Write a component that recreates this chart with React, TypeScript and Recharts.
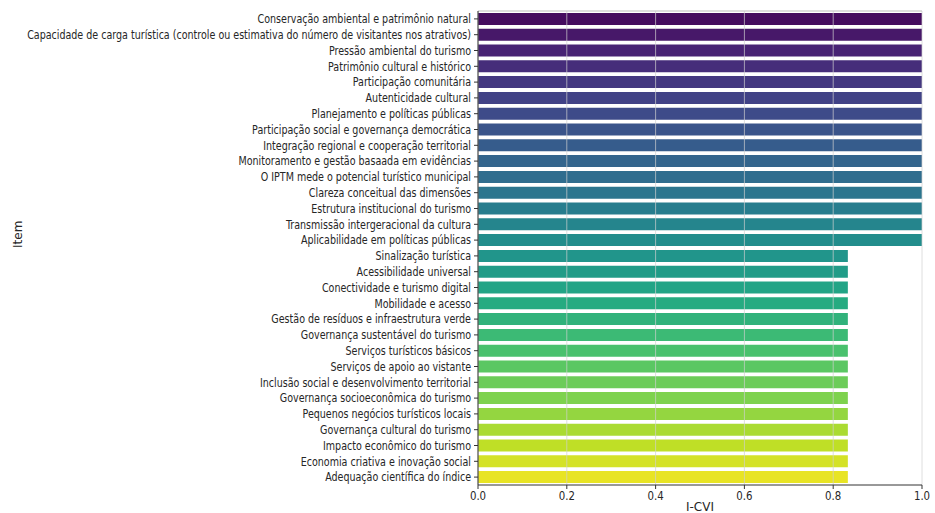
import React from 'react';
import { BarChart, Bar, XAxis, YAxis, Cell, ReferenceLine } from 'recharts';

const items = [
  'Conservação ambiental e patrimônio natural',
  'Capacidade de carga turística (controle ou estimativa do número de visitantes nos atrativos)',
  'Pressão ambiental do turismo',
  'Patrimônio cultural e histórico',
  'Participação comunitária',
  'Autenticidade cultural',
  'Planejamento e políticas públicas',
  'Participação social e governança democrática',
  'Integração regional e cooperação territorial',
  'Monitoramento e gestão basaada em evidências',
  'O IPTM mede o potencial turístico municipal',
  'Clareza conceitual das dimensões',
  'Estrutura institucional do turismo',
  'Transmissão intergeracional da cultura',
  'Aplicabilidade em políticas públicas',
  'Sinalização turística',
  'Acessibilidade universal',
  'Conectividade e turismo digital',
  'Mobilidade e acesso',
  'Gestão de resíduos e infraestrutura verde',
  'Governança sustentável do turismo',
  'Serviços turísticos básicos',
  'Serviços de apoio ao vistante',
  'Inclusão social e desenvolvimento territorial',
  'Governança socioeconômica do turismo',
  'Pequenos negócios turísticos locais',
  'Governança cultural do turismo',
  'Impacto econômico do turismo',
  'Economia criativa e inovação social',
  'Adequação científica do índice',
];

const icvi = [
  1.0, 1.0, 1.0, 1.0, 1.0, 1.0, 1.0, 1.0, 1.0, 1.0, 1.0, 1.0, 1.0, 1.0, 1.0,
  0.833, 0.833, 0.833, 0.833, 0.833, 0.833, 0.833, 0.833, 0.833, 0.833, 0.833, 0.833, 0.833, 0.833, 0.833,
];

const xTicks = [0, 0.2, 0.4, 0.6, 0.8, 1.0];

// viridis anchors (0, 0.1, ... 1)
const VIRIDIS = [
  '#440154', '#482475', '#414487', '#355f8d', '#2a788e', '#21918c',
  '#22a884', '#44bf70', '#7ad151', '#bddf26', '#fde725',
];

const hex = (c: string) => [1, 3, 5].map((i) => parseInt(c.slice(i, i + 2), 16));

const viridis = (t: number) => {
  const p = t * 10;
  const i = Math.min(9, Math.floor(p));
  const f = p - i;
  const a = hex(VIRIDIS[i]);
  const b = hex(VIRIDIS[i + 1]);
  const rgb = a.map((v, k) => Math.round(v + (b[k] - v) * f));
  return `rgb(${rgb.join(',')})`;
};

const data = items.map((item, i) => ({ item, icvi: icvi[i] }));

const FONT = '"DejaVu Sans", sans-serif';

const YTick = (props: any) => {
  const { x, y, payload } = props;
  return (
    <g transform={`translate(${x},${y})`}>
      <text
        x={0}
        y={0}
        dy="0.36em"
        textAnchor="end"
        fontSize={12}
        fill="#262626"
        fontFamily={FONT}
        transform="scale(0.795,1)"
      >
        {payload.value}
      </text>
    </g>
  );
};

const XTick = (props: any) => {
  const { x, y, payload } = props;
  return (
    <g transform={`translate(${x},${y})`}>
      <text
        x={0}
        y={0}
        dy="0.71em"
        textAnchor="middle"
        fontSize={12}
        fill="#262626"
        fontFamily={FONT}
        transform="scale(0.85,1)"
      >
        {Number(payload.value).toFixed(1)}
      </text>
    </g>
  );
};

const App = () => {
  return (
    <div style={{ position: 'absolute', left: 0, top: 0, background: '#fff' }}>
      <BarChart
        width={935}
        height={513}
        data={data}
        layout="vertical"
        margin={{ top: 10, right: 13, left: 0, bottom: 0 }}
        barCategoryGap="12%"
      >
        <XAxis
          xAxisId="top"
          orientation="top"
          type="number"
          domain={[0, 1]}
          tick={false}
          tickLine={false}
          height={1}
          axisLine={{ stroke: '#bdbdbd' }}
        />
        <XAxis
          type="number"
          dataKey="icvi"
          domain={[0, 1]}
          ticks={xTicks}
          tick={<XTick />}
          tickSize={4}
          tickMargin={2}
          axisLine={{ stroke: '#333' }}
          tickLine={{ stroke: '#333' }}
          height={28}
          label={{ value: 'I-CVI', position: 'insideBottom', offset: 2, fontSize: 12, fill: '#262626', fontFamily: FONT }}
        />
        <YAxis
          type="category"
          dataKey="item"
          width={478}
          interval={0}
          tick={<YTick />}
          tickSize={4}
          tickMargin={3}
          axisLine={{ stroke: '#333' }}
          tickLine={{ stroke: '#333' }}
          label={{ value: 'Item', angle: -90, position: 'insideLeft', offset: 18, fontSize: 12, fill: '#262626', fontFamily: FONT }}
        />
        <Bar dataKey="icvi" isAnimationActive={false}>
          {data.map((d, i) => (
            <Cell key={d.item} fill={viridis((i + 1) / 31)} />
          ))}
        </Bar>
        {xTicks.map((t) => (
          <ReferenceLine key={t} x={t} stroke="#d0d0d0" strokeOpacity={0.7} strokeWidth={1} />
        ))}
      </BarChart>
    </div>
  );
};

export default App;
